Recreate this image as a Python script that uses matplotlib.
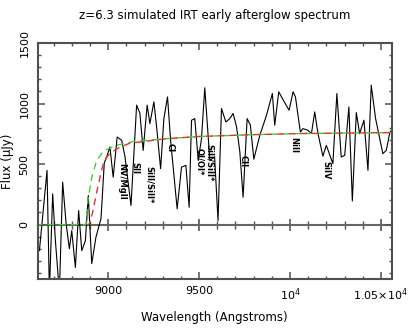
import matplotlib
matplotlib.use("Agg")
import matplotlib.pyplot as plt
from matplotlib.ticker import MultipleLocator, FixedLocator, FixedFormatter

wave = [8603, 8621, 8663, 8676, 8694, 8709, 8731, 8749, 8768, 8786, 8799, 8819,
        8837, 8854, 8874, 8890, 8909, 8932, 8960, 8978, 8991, 9009, 9027, 9049,
        9074, 9092, 9125, 9156, 9174, 9192, 9214, 9229, 9251, 9266, 9288, 9306,
        9326, 9343, 9379, 9403, 9427, 9445, 9458, 9476, 9495, 9513, 9531, 9559,
        9585, 9604, 9623, 9647, 9669, 9687, 9706, 9724, 9742, 9764, 9782, 9801,
        9834, 9870, 9903, 9916, 9938, 9966, 9995, 10017, 10030, 10057, 10071,
        10099, 10118, 10136, 10154, 10181, 10200, 10236, 10258, 10282, 10301,
        10324, 10343, 10365, 10383, 10407, 10429, 10447, 10471, 10511, 10530,
        10548, 10565]
flux = [-133, -216, 448, -560, 254, -133, -560, 350, 8, -200, -50, -354,
        116, -216, -133, 240, -323, -105, 50, 510, 558, 641, 392, 724,
        696, 560, 158, 987, 920, 613, 987, 835, 1014, 807, 462, 876,
        1055, 696, 130, 475, 489, 143, 862, 876, 530, 710, 1130, 530,
        560, 33, 959, 848, 876, 918, 807, 600, 226, 876, 821, 540,
        738, 900, 1083, 821, 1097, 1020, 945, 1097, 1055, 765, 793,
        779, 752, 931, 752, 565, 655, 503, 1083, 558, 572,
        972, 195, 925, 752, 862, 448, 1152, 876, 586, 613,
        752, 800]

# model curves
wave_green = [8600, 8877, 8888, 8909, 8936, 8965, 8991, 9046, 9136, 9322,
              9504, 9778, 10053, 10560]
flux_green = [0, 0, 200, 390, 530, 590, 620, 655, 685, 710,
              728, 742, 752, 760]
wave_red = [8894, 8914, 8938, 8960, 8976, 8998, 9026, 9064, 9119, 9322,
            9504, 9778, 10053, 10560]
flux_red = [0, 100, 280, 430, 520, 570, 605, 640, 672, 710,
            728, 742, 752, 760]

# line identifications
line_names = ["NV/MgII", "SII", "SiII/SiII*", "CI", "OI/OI*", "SiII/SiII*",
              "CII", "NiII", "SiIV"]
line_wave = [9073, 9144, 9226, 9339, 9504, 9554, 9743, 10018, 10199]
line_flux = [506, 514, 481, 671, 630, 663, 572, 721, 522]

frame = "#505050"

fig = plt.figure(figsize=(4.15, 3.31), dpi=100)
rect = [0.091, 0.157, 0.853, 0.713]

# axis drawn through flux = 0
ax0 = fig.add_axes(rect)
ax0.patch.set_visible(False)
for s in ["top", "left", "right"]:
    ax0.spines[s].set_visible(False)
ax0.spines["bottom"].set_position(("data", 0))
ax0.spines["bottom"].set_color("#666666")
ax0.spines["bottom"].set_linewidth(1.5)
ax0.set_xlim(8612, 10560)
ax0.set_ylim(-450, 1500)
ax0.xaxis.set_major_locator(MultipleLocator(500))
ax0.xaxis.set_minor_locator(MultipleLocator(100))
ax0.tick_params(axis="x", which="major", direction="inout", length=9,
                width=1.2, color="#555555", labelbottom=False)
ax0.tick_params(axis="x", which="minor", direction="inout", length=5.5,
                width=1.0, color="#555555")
ax0.set_yticks([])

ax = fig.add_axes(rect)
ax.patch.set_visible(False)
ax.plot(wave, flux, color="black", lw=0.8)
ax.plot(wave_green, flux_green, color="#44cc33", lw=1.0, ls=(0, (5, 3.5)))
ax.plot(wave_red, flux_red, color="#dd3333", lw=1.0, ls=(2.5, (5, 3.5)))

for name, w, f in zip(line_names, line_wave, line_flux):
    ax.text(w, f, name, rotation=-90, ha="center", va="top", fontsize=6,
            fontweight="semibold")

ax.set_xlim(8612, 10560)
ax.set_ylim(-450, 1500)
ax.xaxis.set_major_locator(FixedLocator([9000, 9500, 10000, 10500]))
ax.xaxis.set_major_formatter(FixedFormatter(["9000", "9500", r"$10^4$",
                                             r"$1.05{\times}10^4$"]))
ax.xaxis.set_minor_locator(MultipleLocator(100))
ax.yaxis.set_major_locator(MultipleLocator(500))
ax.yaxis.set_minor_locator(MultipleLocator(100))
for t in ax.get_yticklabels():
    t.set_rotation(90)
    t.set_va("center")
ax.tick_params(which="both", direction="in", top=True, right=True,
               color=frame, labelsize=8)
ax.tick_params(which="major", length=5, width=1.1)
ax.tick_params(which="minor", length=2.5, width=1.0)
ax.tick_params(axis="x", pad=5)
ax.tick_params(axis="y", pad=6)
for s in ax.spines.values():
    s.set_color(frame)
    s.set_linewidth(1.5)

ax.set_xlabel("Wavelength (Angstroms)", fontsize=8.5, labelpad=6)
ax.set_ylabel("Flux (\u03bcJy)", fontsize=8.5)
ax.yaxis.set_label_coords(-0.066, 0.5)
ax.set_title("z=6.3 simulated IRT early afterglow spectrum", fontsize=8.5,
             pad=17)

fig.savefig("out.png", dpi=100)
